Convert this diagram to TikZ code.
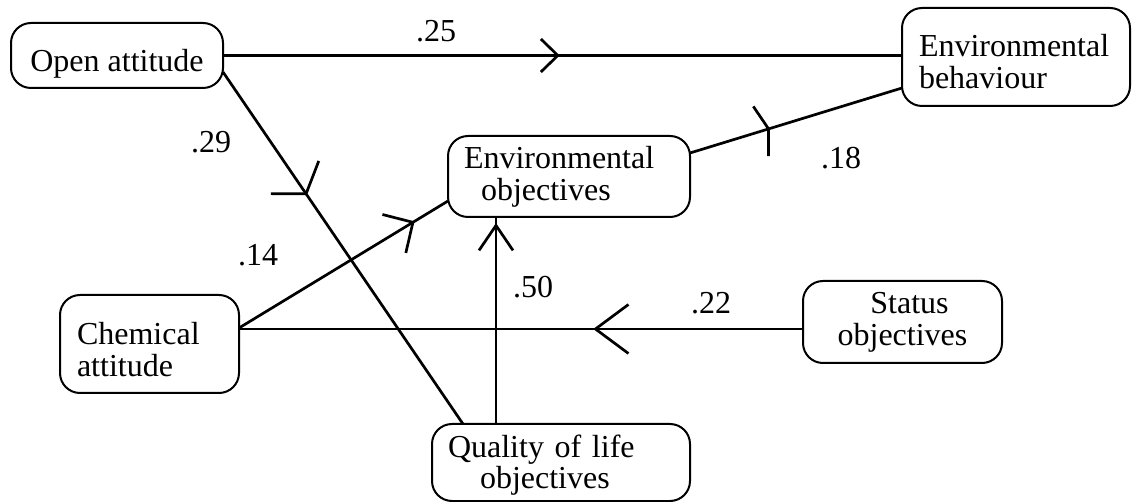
\documentclass[tikz,border=0pt]{standalone}
\usepackage{fontspec}
\setmainfont{Liberation Serif}
\usetikzlibrary{calc,arrows.meta,decorations.markings}
\tikzset{
  box/.style={draw, line width=2pt, rounded corners=20pt, inner sep=0pt, outer sep=0pt},
  link/.style={line width=2.7pt},
  chev/.style n args={3}{postaction={decorate}, decoration={markings, mark=at position #1 with {\arrow[line width=2.7pt]{Straight Barb[length=#2pt, width=#3pt]}}}},
  coef/.style={inner sep=0pt},
  every node/.style={font=\fontsize{32}{32}\selectfont}
}
\begin{document}
\begin{tikzpicture}[x=1pt,y=-1pt]
\useasboundingbox (0,0) rectangle (1133,502);
% boxes
\node[box, minimum width=212, minimum height=65, text height=33pt, text depth=0pt, align=center] (open) at (117,55.5) {Open attitude};
\node[box, minimum width=228, minimum height=98, text height=0pt, text depth=0.6pt, text width=194pt, align=left] (envb) at (1016,57) {Environmental\\behaviour};
\node[box, minimum width=242, minimum height=81, text height=0pt, text depth=16.4pt, text width=210pt, align=left] (envo) at (569,176.5) {Environmental\\\hspace*{17pt}objectives};
\node[box, minimum width=179, minimum height=98, text height=2pt, text depth=0pt, text width=145pt, align=left] (chem) at (149.5,344) {Chemical\\attitude};
\node[box, minimum width=199, minimum height=82, text height=48pt, text depth=0pt, align=center] (stat) at (902.5,322) {\hspace*{14pt}Status\\objectives};
\node[box, minimum width=258, minimum height=77, text height=0pt, text depth=11pt, text width=226pt, align=left] (qual) at (561,462.5) {Quality of life\\\hspace*{32pt}objectives};
% connector end points
\coordinate (o2) at ($(open.east)+(0,16.5)$);
\coordinate (q2) at ($(qual.north west)+(31,0)$);
\coordinate (c3) at ($(chem.east)+(0,-16)$);
\coordinate (e3) at ($(envo.west)+(0,24.5)$);
\coordinate (e4) at ($(envo.east)+(0,-23.5)$);
\coordinate (b4) at ($(envb.west)+(0,31)$);
\coordinate (q5) at ($(qual.north west)+(64,0)$);
\coordinate (s6) at ($(stat.west)+(0,7)$);
% connectors
\draw[link, chev={0.496}{17}{33}] (open.east) -- (open.east -| envb.west);
\draw[link, chev={0.35}{20}{58}] (o2) -- (q2);
\draw[link, chev={0.84}{22}{45}] (c3) -- (e3);
\draw[link, chev={0.377}{8}{52}] (e4) -- (b4);
\draw[link, chev={0.971}{25}{34}] (q5) -- (q5 |- envo.south);
\draw[link, chev={0.372}{33}{49}] (s6) -- (s6 -| chem.east);
% coefficients
\node[coef] (l25) at (436,31) {.25};
\node[coef] (l29) at (211,142) {.29};
\node[coef] (l14) at (258,255) {.14};
\node[coef] (l18) at (841,158) {.18};
\node[coef] (l50) at (533,287) {.50};
\node[coef] (l22) at (711,303) {.22};
\end{tikzpicture}
\end{document}
